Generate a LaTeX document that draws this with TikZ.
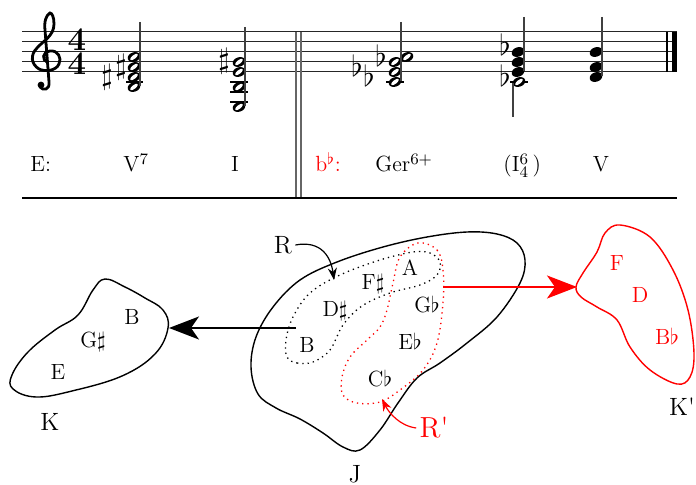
\documentclass[tikz,border=0pt]{standalone}
\usepackage{graphicx}
\usetikzlibrary{arrows.meta}
\newcommand\mushalf[2]{%
  \fill[rotate around={20:(#1,#2)}] (#1,#2) ellipse (6.5 and 4.7);
  \fill[white,rotate around={38:(#1,#2)}] (#1,#2) ellipse (4.7 and 1.9);}
\newcommand\musquarter[2]{%
  \fill[rotate around={20:(#1,#2)}] (#1,#2) ellipse (6.5 and 4.7);}
\newcommand\musharp{\scalebox{1.45}{$\sharp$}}
\newcommand\muflat{\scalebox{1.45}{$\flat$}}
\begin{document}
\begin{tikzpicture}[x=0.5pt,y=-0.5pt,
  staffline/.style={line width=0.5pt,black!85},
  stemline/.style={line width=0.55pt,black!75},
  ledger/.style={line width=0.55pt,black},
  barthin/.style={line width=0.6pt,black!60},
  acc/.style={inner sep=0pt,font=\fontsize{10}{10}\selectfont},
  ana/.style={inner sep=0pt,font=\fontsize{11}{13}\selectfont},
  pc/.style={inner sep=0pt,font=\fontsize{11}{13}\selectfont},
  setlab/.style={inner sep=1.5pt,font=\fontsize{12.5}{15}\selectfont},
  blob/.style={line width=0.7pt},
  dotblob/.style={line width=0.65pt,dotted},
  bigarrow/.style={-{Stealth[length=15pt,width=11.5pt,inset=4pt]}},
  smallarrow/.style={line width=0.6pt,-{Stealth[length=6pt,width=4.5pt]}}]
\useasboundingbox (0,0) rectangle (696,485);

% ---------------- staff ----------------
\foreach \yy in {32,42,52,62,72} \draw[staffline] (22,\yy) -- (677,\yy);
% double bar (extends through the analysis row)
\draw[barthin] (296,32) -- (296,198);
\draw[barthin] (301,32) -- (301,198);
% final bar
\draw[line width=0.6pt] (667,32) -- (667,72);
\draw[line width=2.5pt] (674.5,32) -- (674.5,72);
% separator
\draw[line width=0.6pt] (22,198) -- (677,198);

% treble clef
\draw[line width=1.4pt,line cap=round]
  (47,62) .. controls (42,60) and (42,52) .. (50,51)
  .. controls (58,50) and (62,58) .. (59,64)
  .. controls (56,71) and (45,72) .. (39,69)
  .. controls (31,64) and (30,55) .. (37,48)
  .. controls (43,41) and (54,36) .. (54,24)
  .. controls (54,17) and (52,13) .. (50,13)
  .. controls (46,15) and (44,22) .. (45,30)
  -- (49,82)
  .. controls (50,90) and (43,91) .. (40,87);
\fill (41,85) circle (3.4);

% time signature
\node[inner sep=0pt,align=center,font=\fontsize{16.5}{10}\selectfont\bfseries] (ts) at (77,52) {4\\4};

% chord 1 (B D# F# A)
\draw[ledger] (126,82) -- (143,82);
\mushalf{134}{57}\mushalf{134}{67}\mushalf{134}{77}\mushalf{134}{87}
\draw[stemline] (140,22) -- (140,86);
\node[acc] (s1a) at (107,77) {\musharp};
\node[acc] (s1b) at (121,67) {\musharp};

% chord 2 (E B E G#)
\foreach \yy in {82,92,102} \draw[ledger] (230,\yy) -- (248,\yy);
\mushalf{239}{62}\mushalf{239}{72}\mushalf{239}{87}\mushalf{239}{107}
\draw[stemline] (245,27) -- (245,106);
\node[acc] (s2a) at (224,61) {\musharp};

% chord 3 (Cb Eb Gb A)
\draw[ledger] (386,82) -- (404,82);
\mushalf{395}{82}\mushalf{395}{72}\mushalf{395}{62}\mushalf{407}{57}
\draw[stemline] (401,22) -- (401,81);
\node[acc,anchor=south] (f3a) at (357,77) {\muflat};
\node[acc,anchor=south] (f3b) at (369,87) {\muflat};
\node[acc,anchor=south] (f3c) at (381,67) {\muflat};

% chord 4
\musquarter{518}{52}\musquarter{518}{62}\musquarter{518}{72}
\draw[stemline] (524,17) -- (524,71);
\draw[ledger] (510,82) -- (528,82);
\mushalf{519}{82}
\draw[stemline] (513,83) -- (513,117);
\node[acc,anchor=south] (f4a) at (505,56) {\muflat};
\node[acc,anchor=south] (f4b) at (505,87) {\muflat};

% chord 5 (D F Bb)
\musquarter{596}{52}\musquarter{596}{67}\musquarter{596}{77}
\draw[stemline] (602,17) -- (602,76);

% analysis row
\node[ana,anchor=base west] (keyE) at (30,172) {E:};
\node[ana,anchor=base west] (vseven) at (123,172) {V$^7$};
\node[ana,anchor=base] (itonic) at (235,172) {I};
\node[ana,anchor=base west,red] (keyBb) at (315,172) {b$^\flat$:};
\node[ana,anchor=base west] (ger) at (375,172) {Ger$^{6+}$};
\node[ana,anchor=base west] (isixfour) at (503,172) {(I$^6_4\,$)};
\node[ana,anchor=base] (vdom) at (601,172) {V};

% ---------------- sets ----------------
% K
\draw[blob] plot[smooth cycle,tension=0.65] coordinates {
  (105,279) (125,287) (145,298) (163,310) (168,328) (155,354) (122,376)
  (72,391) (36,397) (13,389) (12,375) (28,352) (55,330) (78,315) (93,290)};
\node[pc] (kB) at (132,317) {B};
\node[pc] (kG) at (93,342) {G$\sharp$};
\node[pc] (kE) at (58,372) {E};
\node[setlab] (K) at (50,422) {K};

% J
\draw[blob] plot[smooth cycle,tension=0.6] coordinates {
  (251,367) (256,337) (273,307) (300,280) (337,262) (383,247) (427,237)
  (467,232) (497,234) (517,243) (525,260) (520,283) (497,317) (467,343)
  (440,363) (417,378) (398,403) (380,430) (360,450) (343,447) (323,433)
  (300,419) (276,408) (258,394)};
\node[setlab] (J) at (355,474) {J};

% R (dotted black)
\draw[dotblob] plot[smooth cycle,tension=0.6] coordinates {
  (287,357) (297,363) (313,362) (330,350) (343,325) (362,306) (390,293)
  (420,285) (437,275) (440,262) (430,253) (413,252) (380,260) (340,275)
  (310,293) (293,317) (286,340)};
% R' (dotted red)
\draw[dotblob,red] plot[smooth cycle,tension=0.6] coordinates {
  (418,243) (437,250) (443,270) (443,303) (437,343) (423,370) (400,390)
  (380,402) (357,403) (343,395) (342,377) (350,357) (367,340) (380,327)
  (387,310) (393,283) (400,257)};

\node[pc] (jF) at (373,284) {F$\sharp$};
\node[pc] (jA) at (410,268) {A};
\node[pc] (jD) at (335,311) {D$\sharp$};
\node[pc] (jG) at (427,305) {G$\flat$};
\node[pc] (jB) at (307,345) {B};
\node[pc] (jE) at (410,341) {E$\flat$};
\node[pc] (jC) at (380,379) {C$\flat$};

% K'
\draw[blob,red] plot[smooth cycle,tension=0.6] coordinates {
  (620,225) (650,237) (673,270) (688,310) (694,353) (690,377) (677,384)
  (650,370) (630,347) (617,320) (597,307) (581,297) (576,287) (583,273)
  (597,252) (605,233)};
\node[pc,red] (kpF) at (617,263) {F};
\node[pc,red] (kpD) at (640,295) {D};
\node[pc,red] (kpB) at (667,336) {B$\flat$};
\node[setlab] (Kp) at (682,407) {K\textquotesingle};

% arrows between sets
\coordinate (kin) at (169,328);
\coordinate (rout) at (296,328);
\draw[line width=1pt,bigarrow] (rout) -- (kin);
\coordinate (rpout) at (443,287);
\coordinate (kpin) at (577,287);
\draw[red,line width=1.2pt,bigarrow] (rpout) -- (kpin);

% R labels
\node[setlab] (R) at (283,245) {R};
\coordinate (rtip) at (334,280);
\draw[smallarrow] (R.east) .. controls (322,240) and (331,258) .. (rtip);
\node[setlab,red,font=\fontsize{14.5}{16}\selectfont] (Rp) at (434,428) {R\textquotesingle};
\coordinate (rptip) at (382,399);
\draw[smallarrow,red] (Rp.west) .. controls (400,426) and (389,413) .. (rptip);
\end{tikzpicture}
\end{document}
